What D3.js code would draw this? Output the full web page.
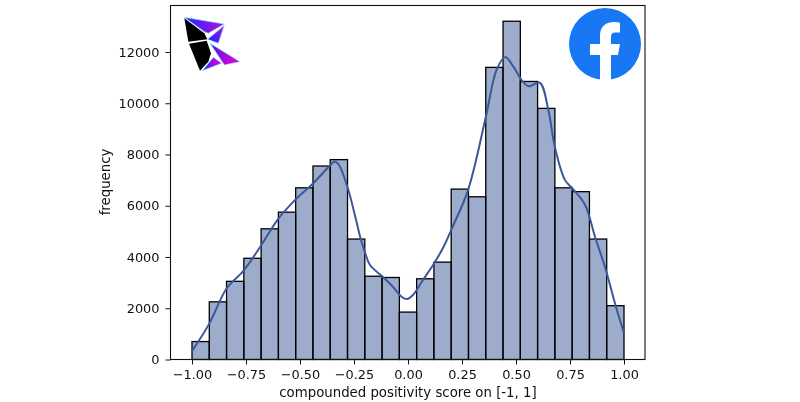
<!DOCTYPE html>
<html>
<head>
<meta charset="utf-8">
<script src="https://cdn.jsdelivr.net/npm/d3@7"></script>
<style>
  body { margin: 0; background: #fff; }
  svg { display: block; font-family: "DejaVu Sans", sans-serif; filter: blur(0.35px); }
  .tick text { font-size: 12.9px; fill: #111; }
  .axis-title { font-size: 13.3px; fill: #111; }
</style>
</head>
<body>
<div class="content"></div>
<script>
//--> Chart data
const binCounts = [700, 2250, 3050, 3950, 5100, 5750, 6700, 7550, 7800, 4700, 3250, 3200, 1850,
  3150, 3800, 6650, 6350, 11400, 13200, 10850, 9800, 6700, 6550, 4700, 2100];
const binStart = -1;
const binStep = 0.08;

const kdeScores = [-1, -0.92, -0.84, -0.76, -0.68, -0.6, -0.52, -0.44, -0.36, -0.34, -0.32, -0.28,
  -0.24, -0.222, -0.2, -0.176, -0.116, -0.069, -0.028, -0.005, 0.023, 0.069, 0.116, 0.162, 0.204,
  0.278, 0.36, 0.41, 0.45, 0.49, 0.53, 0.56, 0.61, 0.65, 0.68, 0.727, 0.764, 0.82, 0.866, 0.912,
  0.963, 1];
const kdeValues = [325, 1400, 2770, 3480, 4450, 5500, 6250, 6870, 7580, 7730, 7600, 6720,
  5430, 4800, 4200, 3690, 3220, 2830, 2440, 2360, 2520, 3100, 3690, 4350, 5130,
  6610, 9450, 11300, 11800, 11400, 10860, 10660, 10800, 9730, 8290, 7000, 6650, 6030, 4780, 3610,
  2050, 1030];

const xTicks = [-1, -0.75, -0.5, -0.25, 0, 0.25, 0.5, 0.75, 1];
const yTicks = [0, 2000, 4000, 6000, 8000, 10000, 12000];
const xLabel = "compounded positivity score on [-1, 1]";
const yLabel = "frequency";

//--> Set up main elements
const width = 800;
const height = 402;
const plot = { left: 170.5, right: 645, top: 5.5, bottom: 359.5 };
const barColor = "#3b5998";

const svg = d3
  .select(".content")
  .append("svg")
  .attr("width", width)
  .attr("height", height);

//--> Scales
const x = d3.scaleLinear().domain([-1, 1]).range([192, 624]);
const y = d3.scaleLinear().domain([0, 12000]).range([plot.bottom, 52]);

//--> Bars
const barData = binCounts.map((count, i) => ({
  from: binStart + i * binStep,
  to: binStart + (i + 1) * binStep,
  count,
}));

svg
  .append("g")
  .selectAll("rect")
  .data(barData)
  .join("rect")
  .attr("x", d => x(d.from))
  .attr("y", d => y(d.count))
  .attr("width", d => x(d.to) - x(d.from))
  .attr("height", d => y(0) - y(d.count))
  .attr("fill", barColor)
  .attr("fill-opacity", 0.5)
  .attr("stroke", "#000")
  .attr("stroke-width", 1.3);

//--> Density line
const line = d3
  .line()
  .x((_, i) => x(kdeScores[i]))
  .y(d => y(d))
  .curve(d3.curveCatmullRom.alpha(0.5));

svg
  .append("path")
  .attr("d", line(kdeValues))
  .attr("fill", "none")
  .attr("stroke", barColor)
  .attr("stroke-width", 2);

//--> Frame and axes
svg
  .append("rect")
  .attr("x", plot.left)
  .attr("y", plot.top)
  .attr("width", plot.right - plot.left)
  .attr("height", plot.bottom - plot.top)
  .attr("fill", "none")
  .attr("stroke", "#111")
  .attr("stroke-width", 1.1);

const tickFormat = d => d3.format(".2f")(d).replace("-", "\u2212");

const xAxis = svg
  .append("g")
  .attr("transform", `translate(0, ${plot.bottom})`)
  .call(d3.axisBottom(x).tickValues(xTicks).tickFormat(tickFormat).tickSize(5).tickPadding(5));
const yAxis = svg
  .append("g")
  .attr("transform", `translate(${plot.left}, 0)`)
  .call(d3.axisLeft(y).tickValues(yTicks).tickSize(5).tickPadding(6).tickFormat(d3.format("d")));

[xAxis, yAxis].forEach(axis => {
  axis.select(".domain").remove();
  axis.selectAll(".tick line").attr("stroke", "#111");
  axis.attr("font-family", null).attr("font-size", null);
});

svg
  .append("text")
  .attr("class", "axis-title")
  .attr("x", 408)
  .attr("y", 397)
  .attr("text-anchor", "middle")
  .text(xLabel);

svg
  .append("text")
  .attr("class", "axis-title")
  .attr("transform", "translate(110, 182) rotate(-90)")
  .attr("text-anchor", "middle")
  .text(yLabel);

//--> Kite logo
const defs = svg.append("defs");
const kiteBright = [
  { points: "58,52 178,72 130,100 118,95", from: [60, 55], to: [178, 75], c0: "#2a22ff", c1: "#b010e0" },
  { points: "178,76 160,130 128,118", from: [178, 76], to: [135, 122], c0: "#c010e0", c1: "#2a22ff" },
  { points: "135,130 225,185 178,195", from: [140, 135], to: [225, 185], c0: "#4a18e0", c1: "#f000d8" },
  { points: "170,190 112,212 145,172", from: [170, 188], to: [115, 210], c0: "#e000e0", c1: "#2a22ff" },
];
const kiteDark = ["58,55 118,100 127,118 70,125", "72,131 125,122 138,160 130,185 105,212"];

const kiteGradients = defs
  .selectAll("linearGradient")
  .data(kiteBright)
  .join("linearGradient")
  .attr("id", (_, i) => `kite-gradient-${i}`)
  .attr("gradientUnits", "userSpaceOnUse")
  .attr("x1", d => d.from[0])
  .attr("y1", d => d.from[1])
  .attr("x2", d => d.to[0])
  .attr("y2", d => d.to[1]);
kiteGradients.append("stop").attr("offset", "0").attr("stop-color", d => d.c0);
kiteGradients.append("stop").attr("offset", "1").attr("stop-color", d => d.c1);

const kite = svg.append("g").attr("transform", "translate(165, 0) scale(0.3333)");

kite
  .selectAll("polygon.bright")
  .data(kiteBright)
  .join("polygon")
  .attr("class", "bright")
  .attr("points", d => d.points)
  .attr("fill", (_, i) => `url(#kite-gradient-${i})`)
  .attr("stroke", "#7fffff")
  .attr("stroke-width", 3)
  .attr("stroke-opacity", 0.6);

kite
  .selectAll("polygon.dark")
  .data(kiteDark)
  .join("polygon")
  .attr("class", "dark")
  .attr("points", d => d)
  .attr("fill", "#000");

//--> Facebook logo
const fb = svg.append("g").attr("transform", "translate(605, 44)");

fb.append("circle").attr("r", 36).attr("fill", "#1877f2");

fb
  .append("path")
  .attr("fill", "#fff")
  .attr("d", "M-5,36 V11 H-15 V0 H-5 V-8 C-5,-17 0,-22 9,-22 C12,-22 15,-21.500 15,-21 V-11.500 H10 C7,-11.500 6,-10 6,-7 V0 H15 L13,11 H6 V36 Z");
</script>
</body>
</html>
